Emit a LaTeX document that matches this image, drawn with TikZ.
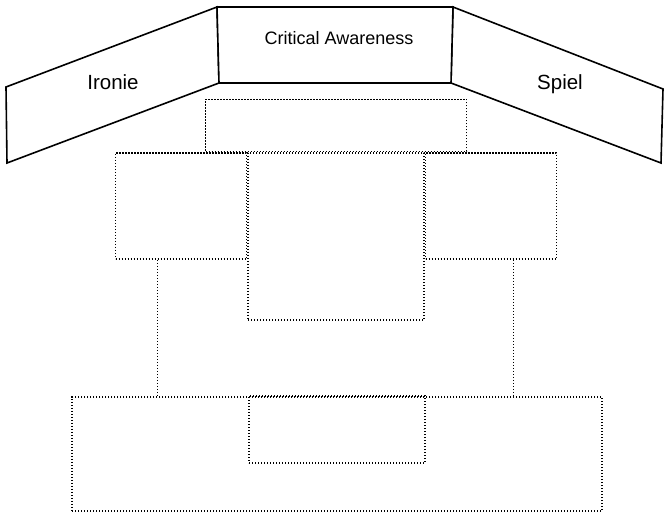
\documentclass[tikz,border=0pt]{standalone}
\usepackage{fontspec}
\setmainfont{Liberation Sans}
\usetikzlibrary{positioning}

\begin{document}
\begin{tikzpicture}[
  x=1pt, y=-1pt,
  wing/.style={draw, line width=1.6pt, line join=miter, fill=white},
  lbl/.style={anchor=base, inner sep=0pt, font=\fontsize{20.5}{24}\selectfont},
  dbox/.style={draw, line width=1.5pt, dash pattern=on 1.4pt off 1.6pt, inner sep=0pt},
  dots/.style={line width=1.5pt, dash pattern=on 1.4pt off 1.6pt}
]
\useasboundingbox (0,0) rectangle (664,513);

% roof
\draw[wing] (217,7) -- (6,87) -- (7,163) -- (219,83) -- cycle;
\draw[wing] (453,7) -- (663,89) -- (661,163) -- (451,83) -- cycle;
\draw[wing] (217,7) -- (453,7) -- (451,83) -- (219,83) -- cycle;
\node[lbl] (ironie) at (113,90) {Ironie};
\node[lbl] (spiel) at (560,90) {Spiel};
\node[lbl, font=\fontsize{18}{22}\selectfont] (aware) at (339,45) {Critical Awareness};

% empty building blocks
\node[dbox, minimum width=176pt, minimum height=167pt] (mid) at (336,236.5) {};
\node[dbox, minimum width=261pt, minimum height=52pt, above=0pt of mid] (lintel) {};
\node[dbox, minimum width=131pt, minimum height=106pt, anchor=north east] (lhs) at (mid.north west) {};
\node[dbox, minimum width=131pt, minimum height=106pt, anchor=north west] (rhs) at (mid.north east) {};
\node[dbox, minimum width=530pt, minimum height=114pt] (plinth) at (337,454) {};
\node[dbox, minimum width=176pt, minimum height=67pt, anchor=north] (step0) at ([yshift=1pt]plinth.north) {};

% posts
\coordinate (lpost) at ([xshift=-23.5pt]lhs.south);
\coordinate (rpost) at ([xshift=22.5pt]rhs.south);
\draw[dots] (lpost) -- (lpost |- plinth.north);
\draw[dots] (rpost) -- (rpost |- plinth.north);
\end{tikzpicture}
\end{document}
